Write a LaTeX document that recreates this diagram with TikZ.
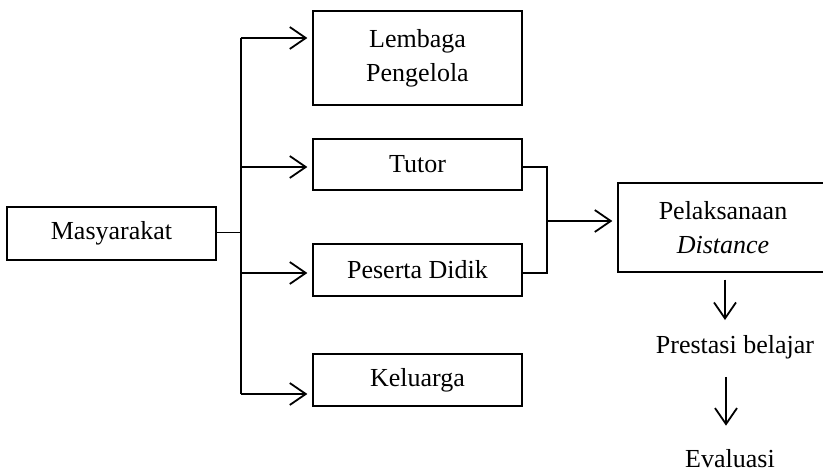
\documentclass[tikz,border=0pt]{standalone}
\usepackage{fontspec}
\setmainfont{Liberation Serif}
\usetikzlibrary{arrows.meta,calc}
\begin{document}
\begin{tikzpicture}[x=1pt,y=-1pt,
  box/.style={draw,line width=1.3pt,inner sep=0pt,align=center,
    font=\fontsize{26}{34}\selectfont},
  lbl/.style={inner sep=0pt,font=\fontsize{26}{34}\selectfont},
  conn/.style={line width=1.8pt},
  arr/.style={line width=1.8pt,-{Straight Barb[length=16pt,width=22pt]}}]
\useasboundingbox (0,0) rectangle (823,470);
\clip (0,0) rectangle (823,470);

% boxes
\node[box,minimum width=209pt,minimum height=53pt] (mas) at (111.5,233.5) {Masyarakat};
\node[box,minimum width=209pt,minimum height=94pt] (lem) at (417.5,58) {Lembaga\\Pengelola};
\node[box,minimum width=209pt,minimum height=51pt] (tut) at (417.5,164.5) {Tutor};
\node[box,minimum width=209pt,minimum height=52pt] (pes) at (417.5,270) {Peserta Didik};
\node[box,minimum width=209pt,minimum height=52pt] (kel) at (417.5,380) {Keluarga};
\node[box,minimum width=210pt,minimum height=89pt] (pel) at (723,227.5) {Pelaksanaan\\\textit{Distance}};
\node[lbl] (pre) at (735,347) {Prestasi belajar};
\node[lbl] (eva) at (730,459) {Evaluasi};

% branching trunk from Masyarakat
\coordinate (tr) at ($(mas.east)+(24,-1)$);
\coordinate (tlem) at ($(lem.west)+(0,-20)$);
\coordinate (ttut) at ($(tut.west)+(0,2.5)$);
\coordinate (tpes) at ($(pes.west)+(0,3)$);
\coordinate (tkel) at ($(kel.west)+(0,14)$);
\draw[conn] (mas.east |- tr) -- (tr);
\draw[conn] (tr |- tlem) -- (tr |- tkel);
\draw[arr,shorten >=5pt] (tr |- tlem) -- (tlem);
\draw[arr,shorten >=5pt] (tr |- ttut) -- (ttut);
\draw[arr,shorten >=5pt] (tr |- tpes) -- (tpes);
\draw[arr,shorten >=5pt] (tr |- tkel) -- (tkel);

% Tutor and Peserta Didik joined into Pelaksanaan
\coordinate (jn) at ($(tut.east)+(24,0)$);
\coordinate (jm) at ($(jn |- pel.west)+(0,-6.5)$);
\draw[conn] (tut.east |- ttut) -- (jn |- ttut) -- (jn |- tpes) -- (pes.east |- tpes);
\draw[arr,shorten >=5pt] (jm) -- (pel.west |- jm);

% outcome chain
\coordinate (d1) at ($(pel.south)+(2,7)$);
\coordinate (d2) at ($(pre.south)+(-9,18)$);
\draw[arr] (d1) -- ($(d1 |- pre.north)+(0,-15)$);
\draw[arr] (d2) -- ($(d2 |- eva.north)+(0,-24)$);
\end{tikzpicture}
\end{document}
